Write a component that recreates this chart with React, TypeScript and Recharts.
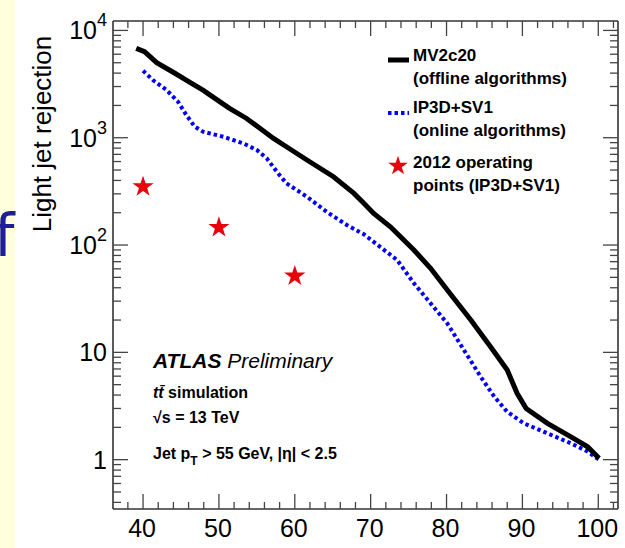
import React from 'react';
import { ComposedChart, Line, Scatter, XAxis, YAxis, ZAxis, Symbols } from 'recharts';

// MV2c20 (offline), b-jet efficiency [%] vs light jet rejection
const mv2c20Eff = [39.1, 40.2, 41.8, 44.2, 46.4, 47.9, 50.1, 51.4, 53.6, 57.2, 58.9, 61.6, 65.1, 67.8, 69.1, 70.4, 72.6, 75.7, 77.9, 80.1, 83.2, 85.8, 88.0, 89.3, 90.5, 93.3, 96.4, 98.6, 100.1];
const mv2c20Rej = [6810, 6330, 5000, 3990, 3210, 2780, 2170, 1880, 1520, 986, 824, 620, 433, 303, 245, 197, 148, 89.9, 60.7, 38.1, 20.0, 11.3, 6.84, 4.15, 3.0, 2.18, 1.63, 1.32, 1.03];

// IP3D+SV1 (online)
const ip3dEff = [40.0, 41.3, 43.1, 44.6, 45.7, 46.8, 47.9, 50.6, 53.2, 55.0, 56.3, 57.8, 58.9, 61.6, 64.2, 66.9, 69.1, 70.4, 73.5, 75.7, 77.9, 80.1, 82.3, 84.5, 86.3, 88.0, 90.2, 93.3, 96.4, 98.6, 100.1];
const ip3dRej = [4210, 3450, 2780, 2170, 1630, 1270, 1140, 1020, 887, 768, 643, 466, 376, 282, 204, 153, 126, 107, 72.4, 44.0, 28.6, 18.6, 10.5, 5.93, 3.86, 2.79, 2.18, 1.76, 1.42, 1.19, 1.0];

// 2012 operating points
const opEff = [40, 50, 60];
const opRej = [349, 146, 51.4];

const xTicks = [38, 40, 42, 44, 46, 48, 50, 52, 54, 56, 58, 60, 62, 64, 66, 68, 70, 72, 74, 76, 78, 80, 82, 84, 86, 88, 90, 92, 94, 96, 98, 100, 102];
const yMajor = [1, 10, 100, 1000, 10000];
const yTicks: number[] = [0.4, 0.5, 0.6, 0.7, 0.8, 0.9];
yMajor.forEach((d) => {
  for (let k = 1; k <= 9; k++) if (d * k <= 10000) yTicks.push(d * k);
});

const mvData = mv2c20Eff.map((x, i) => ({ x, y: mv2c20Rej[i] }));
const ipData = ip3dEff.map((x, i) => ({ x, y: ip3dRej[i] }));
const opData = opEff.map((x, i) => ({ x, y: opRej[i] }));

const FONT = '"Liberation Sans", Arial, Helvetica, sans-serif';
const TICK = '#444';
const FRAME = '#333';
const STAR = '#e8000b';

const isMajorY = (v: number) => yMajor.some((m) => Math.abs(m - v) < 1e-9);

function BottomTick({ x, y, payload }: any) {
  const v = payload.value;
  const major = v % 10 === 0;
  return (
    <g>
      <line x1={x} x2={x} y1={y} y2={y - (major ? 15 : 7)} stroke={TICK} strokeWidth={1.3} />
      {major && (
        <text x={x - 1} y={y + 28} textAnchor="middle" fontSize={25} fontFamily={FONT} fill="#000">
          {v}
        </text>
      )}
    </g>
  );
}

function TopTick({ x, y, payload }: any) {
  const major = payload.value % 10 === 0;
  return <line x1={x} x2={x} y1={y} y2={y + (major ? 15 : 7)} stroke={TICK} strokeWidth={1.3} />;
}

function LeftTick({ x, y, payload }: any) {
  const v = payload.value;
  const major = isMajorY(v);
  const exp = Math.round(Math.log10(v));
  return (
    <g>
      <line x1={x} x2={x + (major ? 15 : 8)} y1={y} y2={y} stroke={TICK} strokeWidth={1.3} />
      {major && (
        <text x={x - 6} y={y + 9} textAnchor="end" fontSize={25} fontFamily={FONT} fill="#000">
          {exp <= 1 ? (
            <tspan>{v}</tspan>
          ) : (
            <>
              <tspan>10</tspan>
              <tspan dy={-13} fontSize={18}>{exp}</tspan>
            </>
          )}
        </text>
      )}
    </g>
  );
}

function RightTick({ x, y, payload }: any) {
  const major = isMajorY(payload.value);
  return <line x1={x} x2={x - (major ? 15 : 8)} y1={y} y2={y} stroke={TICK} strokeWidth={1.3} />;
}

const xDomain = [36.04, 102.6];
const yDomain = [0.347, 12240];

export default function App() {
  return (
    <div style={{ position: 'fixed', left: 0, top: 0, width: 625, height: 548, background: '#fff', overflow: 'hidden' }}>
      <div style={{ position: 'absolute', left: 0, top: 0, width: 15, height: 548, background: '#ffffdc' }} />
      <div
        style={{
          position: 'absolute',
          left: -6,
          top: 196,
          fontFamily: '"DejaVu Sans", sans-serif',
          fontSize: 58,
          color: '#1e1e96',
          lineHeight: '80px',
        }}
      >
        f
      </div>
      <div style={{ position: 'absolute', left: 0, top: 0 }}>
        <ComposedChart width={625} height={548} margin={{ top: 0, right: 0, bottom: 0, left: 0 }}>
          <XAxis
            xAxisId="b"
            dataKey="x"
            type="number"
            domain={xDomain}
            allowDataOverflow
            ticks={xTicks}
            interval={0}
            height={39}
            tickSize={0}
            tickMargin={0}
            tickLine={false}
            axisLine={{ stroke: FRAME, strokeWidth: 1.6 }}
            tick={<BottomTick />}
          />
          <XAxis
            xAxisId="t"
            orientation="top"
            dataKey="x"
            type="number"
            domain={xDomain}
            allowDataOverflow
            ticks={xTicks}
            interval={0}
            height={21}
            tickSize={0}
            tickMargin={0}
            tickLine={false}
            axisLine={{ stroke: FRAME, strokeWidth: 1.6 }}
            tick={<TopTick />}
          />
          <YAxis
            yAxisId="l"
            dataKey="y"
            scale="log"
            type="number"
            domain={yDomain}
            allowDataOverflow
            ticks={yTicks}
            interval={0}
            width={113}
            tickSize={0}
            tickMargin={0}
            tickLine={false}
            axisLine={{ stroke: FRAME, strokeWidth: 1.6 }}
            tick={<LeftTick />}
          />
          <YAxis
            yAxisId="r"
            orientation="right"
            dataKey="y"
            scale="log"
            type="number"
            domain={yDomain}
            allowDataOverflow
            ticks={yTicks}
            interval={0}
            width={7}
            tickSize={0}
            tickMargin={0}
            tickLine={false}
            axisLine={{ stroke: FRAME, strokeWidth: 1.6 }}
            tick={<RightTick />}
          />
          <ZAxis range={[140, 140]} />
          <Line
            xAxisId="b"
            yAxisId="l"
            data={ipData}
            dataKey="y"
            type="linear"
            stroke="#0000ff"
            strokeWidth={4}
            strokeDasharray="3.5 3"
            dot={false}
            isAnimationActive={false}
          />
          <Line
            xAxisId="b"
            yAxisId="l"
            data={mvData}
            dataKey="y"
            type="linear"
            stroke="#000"
            strokeWidth={5}
            dot={false}
            isAnimationActive={false}
          />
          <Scatter
            xAxisId="b"
            yAxisId="l"
            data={opData}
            dataKey="y"
            shape="star"
            fill={STAR}
            isAnimationActive={false}
          />
        </ComposedChart>
      </div>
      <svg width={625} height={548} style={{ position: 'absolute', left: 0, top: 0, pointerEvents: 'none' }}>
        <text
          transform="translate(51,134) rotate(-90)"
          textAnchor="middle"
          fontSize={26}
          fontFamily={FONT}
          fill="#000"
        >
          Light jet rejection
        </text>

        <g fontFamily={FONT} fontWeight="bold" fontSize={17} fill="#000">
          <line x1={388} x2={409} y1={60} y2={60} stroke="#000" strokeWidth={5} />
          <text x={413} y={61}>MV2c20</text>
          <text x={413} y={84}>(offline algorithms)</text>
          <line x1={388} x2={409} y1={113} y2={113} stroke="#0000ff" strokeWidth={4} strokeDasharray="3.5 3" />
          <text x={413} y={113}>IP3D+SV1</text>
          <text x={413} y={136}>(online algorithms)</text>
          <Symbols cx={398} cy={166} type="star" size={120} fill={STAR} />
          <text x={413} y={168}>2012 operating</text>
          <text x={413} y={191}>points (IP3D+SV1)</text>
        </g>

        <g fontFamily={FONT} fill="#000">
          <text x={153} y={368} fontSize={21}>
            <tspan fontWeight="bold" fontStyle="italic">ATLAS</tspan>
            <tspan fontStyle="italic"> Preliminary</tspan>
          </text>
          <text x={153} y={398} fontSize={16} fontWeight="bold">
            <tspan fontStyle="italic">t{'t\u0304'}</tspan>
            <tspan> simulation</tspan>
          </text>
          <text x={153} y={423} fontSize={16} fontWeight="bold">
            {'\u221As = 13 TeV'}
          </text>
          <text x={153} y={459} fontSize={16} fontWeight="bold">
            <tspan>Jet p</tspan>
            <tspan dy={6} fontSize={12}>T</tspan>
            <tspan dy={-6}> {'> 55 GeV, |\u03b7| < 2.5'}</tspan>
          </text>
        </g>
      </svg>
    </div>
  );
}
